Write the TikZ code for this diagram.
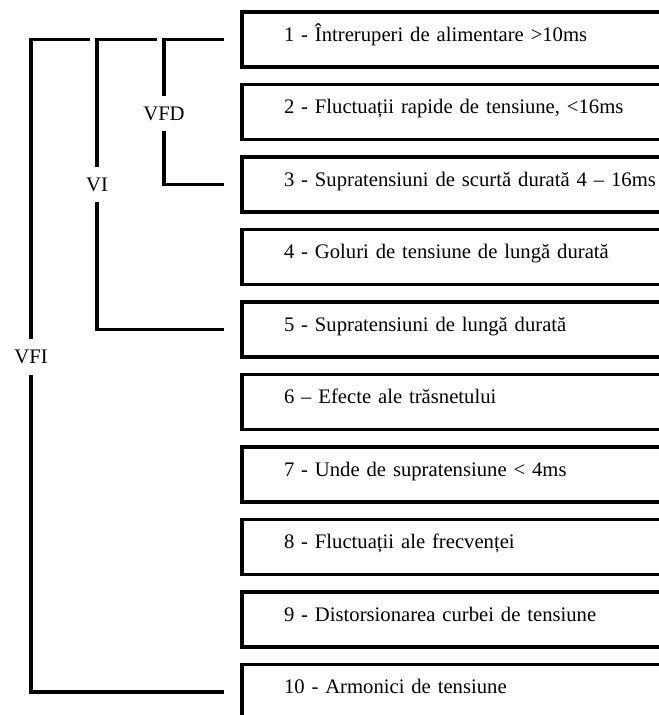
\documentclass[tikz,border=0pt]{standalone}
\usepackage{fontspec}
\setmainfont{Liberation Serif}
\usetikzlibrary{positioning}
\tikzstyle{box} = [
    rectangle, draw=black, line width=2.3pt, outer sep=0pt, minimum height=41.25pt,
    text width=310.5pt, inner xsep=31.5pt, inner ysep=0pt, align=left,
    text height=12pt, text depth=9.75pt
]
\tikzstyle{tag} = [inner sep=0pt, minimum height=26.25pt, text depth=0pt]
\tikzstyle{line} = [line width=2.3pt]

\begin{document}
\begin{tikzpicture}[x=0.75pt, y=-0.75pt, node distance=13.125pt,
                    font=\fontsize{15.5pt}{18pt}\selectfont]
    \useasboundingbox (0,0) rectangle (659,715);
    \clip (0,0) rectangle (659,715);

    \node (b1) [box, anchor=north west] at (242,12) {1 - Întreruperi de alimentare >10ms};
    \node (b2) [box, below=of b1] {2 - Fluctuații rapide de tensiune, <16ms};
    \node (b3) [box, below=of b2] {3 - Supratensiuni de scurtă durată 4 – 16ms};
    \node (b4) [box, below=of b3] {4 - Goluri de tensiune de lungă durată};
    \node (b5) [box, below=of b4] {5 - Supratensiuni de lungă durată};
    \node (b6) [box, below=of b5] {6 – Efecte ale trăsnetului};
    \node (b7) [box, below=of b6] {7 - Unde de supratensiune < 4ms};
    \node (b8) [box, below=of b7] {8 - Fluctuații ale frecvenței};
    \node (b9) [box, below=of b8] {9 - Distorsionarea curbei de tensiune};
    \node (b10) [box, below=of b9] {10 - Armonici de tensiune};

    \node (vfd) [tag] at (164,113.5) {VFD};
    \node (vi) [tag] at (97,184.5) {VI};
    \node (vfi) [tag] at (31,357) {VFI};
    \coordinate (viTop) at (157,39.5);
    \coordinate (vfiTop) at (90,39.5);

    \draw [line] ([xshift=-13.5pt]b1.west) -| (vfd.north);
    \draw [line] (vfd.south) |- ([xshift=-13.5pt]b3.west);
    \draw [line] (viTop) -| (vi.north);
    \draw [line] (vi.south) |- ([xshift=-13.5pt]b5.west);
    \draw [line] (vfiTop) -| (vfi.north);
    \draw [line] (vfi.south) |- ([xshift=-13.5pt]b10.west);
\end{tikzpicture}
\end{document}
